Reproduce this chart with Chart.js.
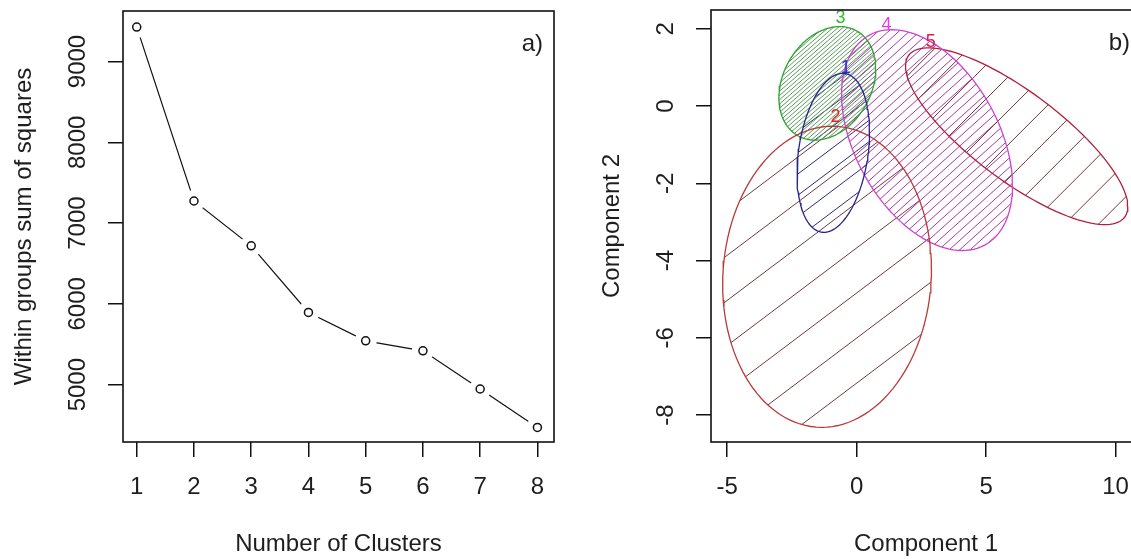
<!DOCTYPE html>
<html>
<head>
<meta charset="utf-8">
<script src="https://cdn.jsdelivr.net/npm/chart.js@4.4.0/dist/chart.umd.min.js"></script>
<style>
html, body { margin: 0; padding: 0; background: #fff; overflow: hidden; }
#wrap { position: relative; width: 1131px; height: 559px; overflow: hidden; }
canvas { position: absolute; top: 0; }
#chart_elbow { left: 0; }
#chart_clus { left: 580px; }
</style>
</head>
<body>
<div id="wrap">
<canvas id="chart_elbow" width="580" height="559"></canvas>
<canvas id="chart_clus" width="580" height="559"></canvas>
</div>
<script>
// panel a) elbow curve
let clusters = [1, 2, 3, 4, 5, 6, 7, 8];
let withinSS = [9426, 7273, 6718, 5894, 5542, 5419, 4946, 4470];
let elbowYTicks = [5000, 6000, 7000, 8000, 9000];

// panel b) cluster ellipses (centre, half width, half height, covariance term)
let clusterIds = ['1', '2', '3', '4', '5'];
let clusterX = [-0.90, -1.14, -1.13, 2.72, 6.18];
let clusterY = [-1.21, -4.42, 0.59, -0.88, -0.78];
let clusterHalfW = [1.40, 4.03, 1.87, 3.30, 4.29];
let clusterHalfH = [2.06, 3.90, 1.47, 2.86, 2.29];
let clusterCov = [0.75, 0.8, 0.7, -3.9, -7.8];
let labelX = [-0.42, -0.81, -0.62, 1.16, 2.86];
let labelY = [0.99, -0.29, 2.29, 2.10, 1.66];
let compXTicks = [-5, 0, 5, 10];
let compYTicks = [-8, -6, -4, -2, 0, 2];

let outlineColor = ['#24248c', '#b83a3a', '#2ea32e', '#cc44cc', '#b0203e'];
let hatchColor = ['#2c2c70', '#74393a', '#5c9c5c', '#a63aa6', '#7a3434'];
let labelColor = ['#2233cc', '#e82222', '#33bb33', '#e040e0', '#d8204c'];
let hatchAngle = [37, 37, 41, 42, 45];
let hatchGap = [17, 36, 3.2, 7, 24];

const FONT = '"Liberation Sans", Arial, sans-serif';

function ellipsePoints(i) {
    let a = clusterHalfW[i];
    let l21 = clusterCov[i] / a;
    let l22 = Math.sqrt(clusterHalfH[i] * clusterHalfH[i] - l21 * l21);
    let pts = [];
    for (let k = 0; k <= 120; k++) {
        let t = k / 120 * 2 * Math.PI;
        pts.push({ x: clusterX[i] + a * Math.cos(t), y: clusterY[i] + l21 * Math.cos(t) + l22 * Math.sin(t) });
    }
    return pts;
}

// R-like box, rotated y labels, axis titles and panel letter
const rFrame = {
    id: 'rFrame',
    afterDraw(chart, args, opts) {
        const { ctx, chartArea: a, scales } = chart;
        ctx.save();
        ctx.strokeStyle = '#111';
        ctx.lineWidth = 1.6;
        ctx.strokeRect(a.left, a.top, a.right - a.left, a.bottom - a.top);
        ctx.fillStyle = '#1e1e1e';
        ctx.font = '24px ' + FONT;
        ctx.textAlign = 'center';
        ctx.textBaseline = 'middle';
        opts.xTicks.forEach(v => ctx.fillText(String(v), scales.x.getPixelForValue(v), a.bottom + 45));
        ctx.fillText(opts.xTitle, (a.left + a.right) / 2, a.bottom + 102);
        opts.yTicks.forEach(v => {
            ctx.save();
            ctx.translate(a.left - 45, scales.y.getPixelForValue(v));
            ctx.rotate(-Math.PI / 2);
            ctx.fillText(String(v), 0, 0);
            ctx.restore();
        });
        ctx.save();
        ctx.translate(a.left - 99, (a.top + a.bottom) / 2);
        ctx.rotate(-Math.PI / 2);
        ctx.fillText(opts.yTitle, 0, 0);
        ctx.restore();
        ctx.textAlign = 'right';
        ctx.fillText(opts.panel, a.right - 11, a.top + 33);
        ctx.restore();
    }
};

// shading lines inside each ellipse, like polygon(density=)
const hatch = {
    id: 'hatch',
    beforeDatasetsDraw(chart) {
        const ctx = chart.ctx;
        chart.data.datasets.forEach((ds, i) => {
            const pts = chart.getDatasetMeta(i).data;
            if (!pts.length) return;
            ctx.save();
            ctx.beginPath();
            pts.forEach((p, k) => k ? ctx.lineTo(p.x, p.y) : ctx.moveTo(p.x, p.y));
            ctx.closePath();
            ctx.clip();
            let x0 = Infinity, x1 = -Infinity, y0 = Infinity, y1 = -Infinity;
            pts.forEach(p => {
                x0 = Math.min(x0, p.x); x1 = Math.max(x1, p.x);
                y0 = Math.min(y0, p.y); y1 = Math.max(y1, p.y);
            });
            const ang = hatchAngle[i] * Math.PI / 180;
            const dx = Math.cos(ang), dy = -Math.sin(ang);
            const nx = Math.sin(ang), ny = Math.cos(ang);
            const cx = (x0 + x1) / 2, cy = (y0 + y1) / 2;
            const r = Math.hypot(x1 - x0, y1 - y0) / 2 + 2;
            ctx.strokeStyle = hatchColor[i];
            ctx.lineWidth = 1;
            ctx.beginPath();
            for (let off = -r; off <= r; off += hatchGap[i]) {
                const px = cx + nx * off, py = cy + ny * off;
                ctx.moveTo(px - dx * r, py - dy * r);
                ctx.lineTo(px + dx * r, py + dy * r);
            }
            ctx.stroke();
            ctx.restore();
        });
    },
    afterDatasetsDraw(chart) {
        const { ctx, scales } = chart;
        ctx.save();
        ctx.font = '18px ' + FONT;
        ctx.textAlign = 'center';
        ctx.textBaseline = 'middle';
        clusterIds.forEach((id, i) => {
            ctx.fillStyle = labelColor[i];
            ctx.fillText(id, scales.x.getPixelForValue(labelX[i]), scales.y.getPixelForValue(labelY[i]));
        });
        ctx.restore();
    }
};

function axis(min, max, ticks, size, isX) {
    return {
        type: 'linear',
        min: min,
        max: max,
        afterBuildTicks: s => { s.ticks = ticks.map(v => ({ value: v })); },
        afterFit: s => { if (isX) s.height = size; else s.width = size; },
        ticks: { display: false },
        grid: { drawOnChartArea: false, drawTicks: true, tickLength: 15, color: '#111', lineWidth: 1.5 },
        border: { display: false }
    };
}

let elbowPoints = clusters.map((c, i) => ({ x: c, y: withinSS[i] }));

let chart_elbow = new Chart(document.getElementById('chart_elbow'), {
    type: 'scatter',
    data: {
        datasets: [{
            data: elbowPoints,
            showLine: true,
            borderColor: '#111',
            borderWidth: 1.2,
            pointRadius: 0,
            order: 3
        }, {
            data: elbowPoints,
            showLine: false,
            pointRadius: 11,
            pointBorderWidth: 0,
            pointBackgroundColor: '#fff',
            pointBorderColor: '#fff',
            order: 2
        }, {
            data: elbowPoints,
            showLine: false,
            pointRadius: 4,
            pointBorderWidth: 1.5,
            pointBackgroundColor: '#fff',
            pointBorderColor: '#111',
            order: 1
        }]
    },
    options: {
        responsive: false,
        maintainAspectRatio: false,
        animation: false,
        layout: { padding: { top: 10, right: 26, left: 0, bottom: 0 } },
        plugins: {
            legend: { display: false },
            tooltip: { enabled: false },
            rFrame: { xTicks: clusters, yTicks: elbowYTicks, xTitle: 'Number of Clusters', yTitle: 'Within groups sum of squares', panel: 'a)' }
        },
        scales: {
            x: axis(0.76, 8.29, clusters, 117, true),
            y: axis(4290, 9625, elbowYTicks, 123, false)
        }
    },
    plugins: [rFrame]
});

let chart_clus = new Chart(document.getElementById('chart_clus'), {
    type: 'scatter',
    data: {
        datasets: clusterIds.map((id, i) => ({
            label: id,
            data: ellipsePoints(i),
            showLine: true,
            fill: false,
            borderColor: outlineColor[i],
            borderWidth: 1.3,
            pointRadius: 0,
            tension: 0
        }))
    },
    options: {
        responsive: false,
        maintainAspectRatio: false,
        animation: false,
        layout: { padding: { top: 10, right: 19, left: 0, bottom: 0 } },
        plugins: {
            legend: { display: false },
            tooltip: { enabled: false },
            rFrame: { xTicks: compXTicks, yTicks: compYTicks, xTitle: 'Component 1', yTitle: 'Component 2', panel: 'b)' }
        },
        scales: {
            x: axis(-5.62, 10.98, compXTicks, 117, true),
            y: axis(-8.70, 2.49, compYTicks, 131, false)
        }
    },
    plugins: [hatch, rFrame]
});
</script>
</body>
</html>
